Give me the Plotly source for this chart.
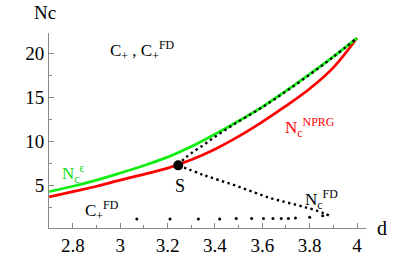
import plotly.graph_objects as go

# ---- data ----
d_grid = [2.7, 2.8, 2.9, 3.0, 3.1, 3.2, 3.3, 3.4, 3.5, 3.6, 3.7, 3.8, 3.9, 4.0]
nc_eps = [4.3, 4.9, 5.6, 6.4, 7.25, 8.2, 9.4, 10.8, 12.3, 13.9, 15.7, 17.6, 19.6, 21.7]
nc_nprg = [3.7, 4.3, 4.9, 5.6, 6.25, 6.95, 7.9, 9.1, 10.55, 12.2, 14.0, 15.95, 18.35, 21.7]

fd_up_d = [3.245, 3.27, 3.3, 3.35, 3.4, 3.45, 3.5, 3.6, 3.7, 3.8, 3.9, 4.0]
fd_up_n = [7.27, 8.0, 8.65, 9.55, 10.5, 11.4, 12.25, 13.85, 15.65, 17.55, 19.55, 21.7]

fd_lo_d = [3.245, 3.35, 3.49, 3.63, 3.75, 3.81, 3.86, 3.885]
fd_lo_n = [7.27, 6.2, 4.95, 3.6, 2.75, 2.3, 1.85, 1.55]

pts_d = [3.07, 3.21, 3.33, 3.42, 3.49, 3.555, 3.605, 3.645, 3.68, 3.71, 3.74, 3.80, 3.855]
pts_n = [1.2, 1.2, 1.2, 1.2, 1.25, 1.25, 1.25, 1.25, 1.25, 1.25, 1.3, 1.4, 1.55]

s_d = [3.245]
s_n = [7.27]

x_ticks = [2.8, 3.0, 3.2, 3.4, 3.6, 3.8, 4.0]
x_tick_text = ["2.8", "3", "3.2", "3.4", "3.6", "3.8", "4"]
y_ticks = [5, 10, 15, 20]
y_tick_text = ["5", "10", "15", "20"]

SERIF = "Liberation Serif"

fig = go.Figure()
fig.add_trace(go.Scatter(x=d_grid, y=nc_nprg, mode="lines", line=dict(color="#ff0000", width=2.8, shape="spline"),
                         hoverinfo="skip", showlegend=False))
fig.add_trace(go.Scatter(x=d_grid, y=nc_eps, mode="lines", line=dict(color="#11ee11", width=2.8, shape="spline"),
                         hoverinfo="skip", showlegend=False))
fig.add_trace(go.Scatter(x=fd_up_d, y=fd_up_n, mode="lines",
                         line=dict(color="black", width=2.4, dash="2.4px,3.4px", shape="spline"),
                         hoverinfo="skip", showlegend=False))
fig.add_trace(go.Scatter(x=fd_lo_d, y=fd_lo_n, mode="lines",
                         line=dict(color="black", width=2.4, dash="2.4px,3.4px", shape="spline"),
                         hoverinfo="skip", showlegend=False))
fig.add_trace(go.Scatter(x=pts_d, y=pts_n, mode="markers", marker=dict(color="black", size=3),
                         hoverinfo="skip", showlegend=False))
fig.add_trace(go.Scatter(x=s_d, y=s_n, mode="markers", marker=dict(color="black", size=10),
                         hoverinfo="skip", showlegend=False))

axis_common = dict(showgrid=False, zeroline=False, showline=True, linecolor="#888888", linewidth=1,
                   ticks="inside", tickcolor="#888888", ticklen=5, tickwidth=1, automargin=False,
                   tickfont=dict(family=SERIF, size=19, color="black"))

fig.update_xaxes(range=[2.699, 4.038], tickvals=x_ticks, ticktext=x_tick_text,
                 minor=dict(dtick=0.1, tick0=2.7, ticklen=3, tickcolor="#888888", ticks="inside"),
                 **axis_common)
fig.update_yaxes(range=[0.17, 22.27], tickvals=y_ticks, ticktext=y_tick_text,
                 minor=dict(dtick=2.5, tick0=0, ticklen=3, tickcolor="#888888", ticks="inside"),
                 **axis_common)

def ann(x, y, text, color="black", size=17, xanchor="left", ref="data"):
    xr, yr = ("x", "y") if ref == "data" else ("paper", "paper")
    fig.add_annotation(x=x, y=y, xref=xr, yref=yr, text=text, showarrow=False,
                       xanchor=xanchor, yanchor="middle",
                       font=dict(family=SERIF, size=size, color=color))

ann(-0.0126, 1.103, "Nc", xanchor="center", size=19, ref="paper")
ann(1.050, 0.0, "d", xanchor="center", size=20, ref="paper")
ann(2.949, 20.3, "C<sub>+</sub> , C<sub>+</sub><sup>FD</sup>", size=17)
ann(3.687, 11.6, "N<sub>c</sub><sup>NPRG</sup>", color="#ff0000", size=17)
ann(2.746, 6.3, "N<sub>c</sub><sup>ϵ</sup>", color="#11dd11", size=17)
ann(3.253, 4.95, "S", xanchor="center", size=18)
ann(2.843, 2.2, "C<sub>+</sub><sup>FD</sup>", size=17)
ann(3.772, 3.4, "N<sub>c</sub><sup>FD</sup>", size=17)

fig.update_layout(width=415, height=256, margin=dict(l=49, r=49, t=33, b=28, autoexpand=False),
                  paper_bgcolor="white", plot_bgcolor="white",
                  font=dict(family=SERIF))

fig.write_html("out.html", config={"displayModeBar": False, "staticPlot": True},
               post_script="document.body.style.margin='0';document.body.style.overflow='hidden';")
